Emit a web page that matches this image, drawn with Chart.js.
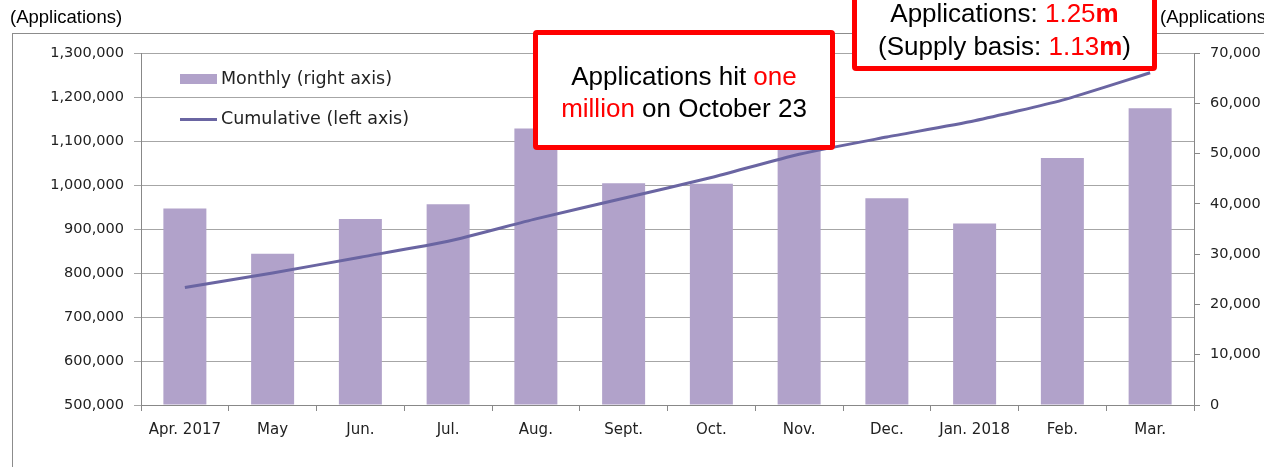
<!DOCTYPE html>
<html>
<head>
<meta charset="utf-8">
<script src="https://cdn.jsdelivr.net/npm/chart.js@4.4.1/dist/chart.umd.min.js"></script>
<style>
  body { margin: 0; background: #fff; }
  #wrap { position: relative; width: 1264px; height: 467px; overflow: hidden; background: #fff; }
  #frame { position: absolute; left: 12px; top: 33px; width: 1400px; height: 600px; border: 1px solid #8c8c8c; }
  #chart { position: absolute; left: 0; top: 0; }
  .unit { position: absolute; top: 6px; font: 18.5px "Liberation Sans", Arial, sans-serif; color: #000; white-space: nowrap; }
  .legend { position: absolute; left: 180px; font: 17.5px "DejaVu Sans", sans-serif; color: #222; white-space: nowrap; }
  .legend .sw { display: inline-block; vertical-align: middle; margin-right: 4px; }
  .box { position: absolute; border: 5px solid #ff0000; border-radius: 4px; background: #fff; box-sizing: border-box; }
  .note { position: absolute; font: 26px "Liberation Sans", Arial, sans-serif; color: #000; text-align: center; line-height: 32px; white-space: nowrap; }
  .red { color: #ff0000; }
</style>
</head>
<body>
<div id="wrap">
  <div id="frame"></div>
  <canvas id="chart" width="1264" height="467"></canvas>

  <div class="unit" style="left:10px;">(Applications)</div>
  <div class="unit" style="left:1160px;">(Applications)</div>

  <div class="legend" style="top:68px;"><span class="sw" style="width:37px;height:10px;background:#b1a2ca;"></span>Monthly (right axis)</div>
  <div class="legend" style="top:108px;"><span class="sw" style="width:37px;height:3px;background:#6a65a2;"></span>Cumulative (left axis)</div>

  <div class="box" style="left:533px;top:30px;width:302px;height:120px;"></div>
  <div class="note" style="left:533px;top:60px;width:302px;">Applications hit <span class="red">one</span><br><span class="red">million</span> on October 23</div>

  <div class="box" style="left:852px;top:-40px;width:305px;height:111px;"></div>
  <div class="note" style="left:852px;top:-3px;width:305px;line-height:33px;">Applications: <span class="red">1.25<b>m</b></span><br>(Supply basis: <span class="red">1.13<b>m</b></span>)</div>
</div>

<script>
// months on the x axis
const months = ['Apr. 2017', 'May', 'Jun.', 'Jul.', 'Aug.', 'Sept.', 'Oct.', 'Nov.', 'Dec.', 'Jan. 2018', 'Feb.', 'Mar.'];
// monthly applications (right axis)
const monthly = [39100, 30100, 37000, 39900, 55000, 44100, 44000, 51000, 41100, 36100, 49100, 59000];
// cumulative applications (left axis)
const cumulative = [767000, 800000, 836000, 872000, 923000, 970000, 1017000, 1070000, 1109000, 1146000, 1193000, 1255000];
// axis ranges
const leftAxis = [500000, 1300000, 100000];
const rightAxis = [0, 70000, 10000];

Chart.defaults.font.family = '"DejaVu Sans", sans-serif';
Chart.defaults.color = '#222';

const ctx = document.getElementById('chart').getContext('2d');
new Chart(ctx, {
    type: 'bar',
    data: {
        labels: months,
        datasets: [
            {
                type: 'line',
                label: 'Cumulative (left axis)',
                data: cumulative,
                yAxisID: 'y',
                borderColor: '#6a65a2',
                borderWidth: 3,
                pointRadius: 0,
                tension: 0.2,
                fill: false,
                order: 0
            },
            {
                label: 'Monthly (right axis)',
                data: monthly,
                yAxisID: 'y1',
                backgroundColor: '#b1a2ca',
                categoryPercentage: 1,
                barPercentage: 0.49,
                order: 1
            }
        ]
    },
    options: {
        responsive: false,
        animation: false,
        layout: { padding: { top: 53, left: 0, right: 0, bottom: 0 } },
        plugins: {
            legend: { display: false },
            tooltip: { enabled: false }
        },
        scales: {
            x: {
                grid: { drawOnChartArea: false, tickLength: 6, color: '#888' },
                border: { color: '#888' },
                ticks: { font: { size: 15 }, padding: 10, maxRotation: 0, autoSkip: false },
                afterFit: s => { s.height = 62; }
            },
            y: {
                position: 'left',
                min: leftAxis[0],
                max: leftAxis[1],
                ticks: { stepSize: leftAxis[2], font: { size: 14.5 }, padding: 10 },
                grid: { color: '#a6a6a6', tickLength: 7 },
                border: { color: '#888' },
                afterFit: s => { s.width = 141; }
            },
            y1: {
                position: 'right',
                min: rightAxis[0],
                max: rightAxis[1],
                ticks: { stepSize: rightAxis[2], font: { size: 14.5 }, padding: 10 },
                grid: { drawOnChartArea: false, color: '#888', tickLength: 6 },
                border: { color: '#888' },
                afterFit: s => { s.width = 70; }
            }
        }
    }
});
</script>
</body>
</html>
